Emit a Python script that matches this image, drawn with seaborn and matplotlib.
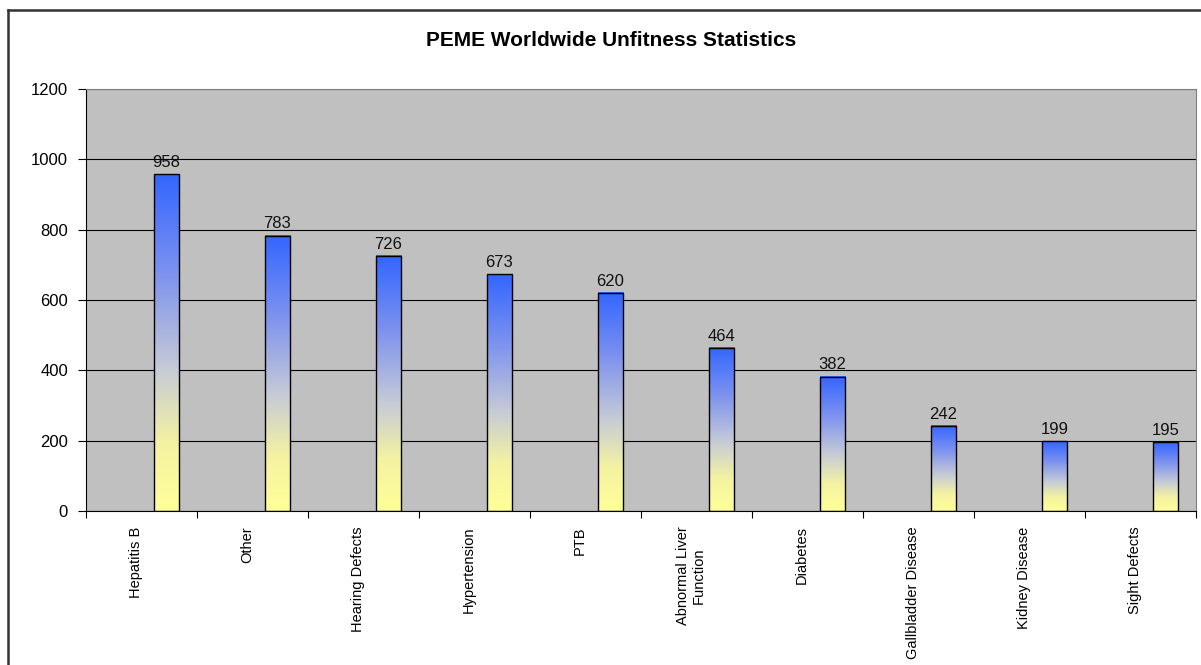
import numpy as np
import matplotlib
matplotlib.use('Agg')
from matplotlib import pyplot as plt
from matplotlib.colors import LinearSegmentedColormap
from matplotlib.lines import Line2D
import seaborn as sns

categories = ["Hepatitis B", "Other", "Hearing Defects", "Hypertension", "PTB",
              "Abnormal Liver\nFunction", "Diabetes", "Gallbladder Disease",
              "Kidney Disease", "Sight Defects"]
values = [958, 783, 726, 673, 620, 464, 382, 242, 199, 195]
yticks = [0, 200, 400, 600, 800, 1000, 1200]

plt.rcParams['font.family'] = ['Liberation Sans', 'DejaVu Sans']

fig = plt.figure(figsize=(12.01, 6.65), dpi=100)
ax = fig.add_axes([86/1201, 1-511/665, 1110/1201, 422/665])
ax.set_facecolor('#c0c0c0')

sns.barplot(x=categories, y=values, width=0.23, color='white',
            edgecolor='black', linewidth=1, ax=ax, zorder=3)

# excel-like gradient: yellow at the base, blue at the top of each bar
cmap = LinearSegmentedColormap.from_list(
    'excel', [(0, '#ffff99'), (0.2, '#f4f2a2'), (0.42, '#c6cbd6'), (0.7, '#7f93ee'), (1, '#3366ff')])
grad = np.linspace(0, 1, 256).reshape(-1, 1)
for p, v in zip(ax.patches, values):
    p.set_x(p.get_x() + 0.225)
    x0, w = p.get_x(), p.get_width()
    ax.imshow(grad, extent=[x0, x0 + w, 0, p.get_height()], origin='lower',
              cmap=cmap, aspect='auto', zorder=2.5)
    p.set_facecolor('none')
    ax.annotate(str(v), (x0 + w / 2, v), xytext=(0, 3), textcoords='offset points',
                ha='center', va='bottom', fontsize=12, color='#111111', zorder=4)

ax.set_xlim(-0.5, len(categories) - 0.5)
ax.set_ylim(0, 1200)
ax.set_yticks(yticks)
ax.yaxis.grid(True, color='black', linewidth=0.8, zorder=1)
ax.set_axisbelow(True)
ax.tick_params(axis='y', labelsize=12, length=6, direction='out', pad=7)

ax.set_xticks(np.arange(len(categories) + 1) - 0.5)
ax.set_xticklabels([])
ax.set_xticks(np.arange(len(categories)) - 0.05, minor=True)
ax.set_xticklabels(categories, minor=True, rotation=90, fontsize=10.5,
                   va='top', ha='center', multialignment='center')
ax.tick_params(axis='x', which='major', length=5, direction='out')
ax.tick_params(axis='x', which='minor', length=0, pad=11)

for side in ['top', 'right']:
    ax.spines[side].set_color('#808080')
for side in ['left', 'bottom']:
    ax.spines[side].set_color('black')

fig.text(611/1201, 1-41/665, "PEME Worldwide Unfitness Statistics",
         ha='center', va='center', fontsize=15, fontweight='bold')

# chart frame (only the left and top edges are inside the picture)
fig.add_artist(Line2D([7.5/1201, 7.5/1201], [0, 1-10/665], color='#333333', lw=1.8))
fig.add_artist(Line2D([7.5/1201, 1], [1-10/665, 1-10/665], color='#333333', lw=1.8))

plt.savefig('out.png', dpi=100)
